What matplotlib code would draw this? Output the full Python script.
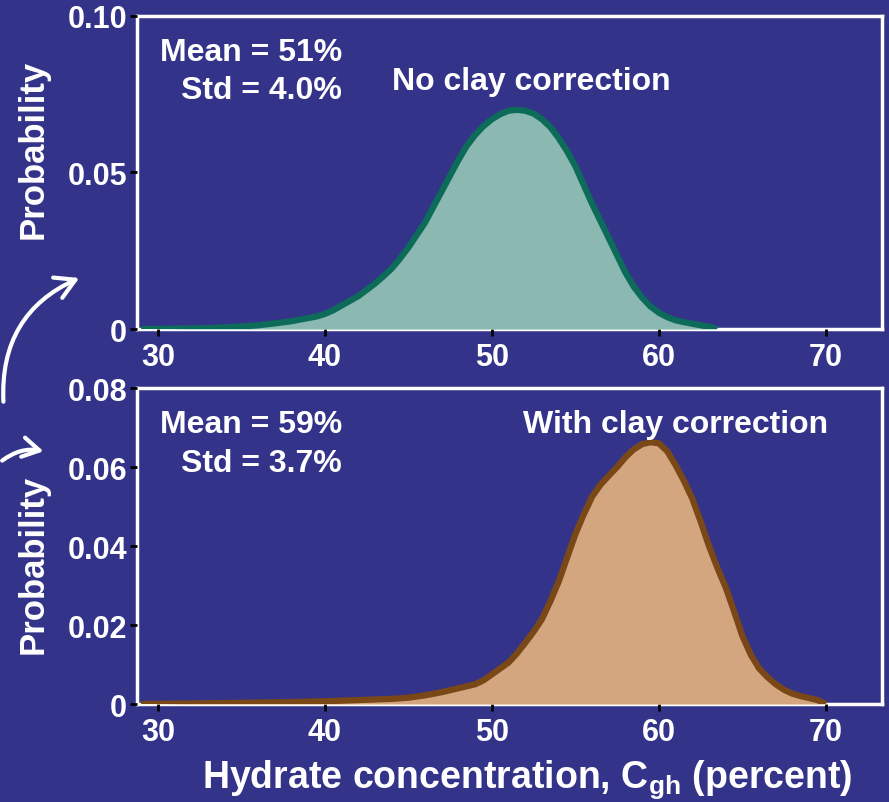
import matplotlib
matplotlib.use("Agg")
import matplotlib.pyplot as plt
import matplotlib.patches as patches

# hydrate concentration distributions (percent, probability)
x_noclay = [29, 31, 33, 35, 36, 37, 38, 39, 39.5, 40, 40.5, 41, 41.5, 42, 42.5, 43, 43.5,
            44, 44.5, 45, 45.5, 46, 46.5, 47, 47.5, 48, 48.5, 49, 49.5, 50, 50.5, 51, 51.5,
            52, 52.5, 53, 53.5, 54, 54.5, 55, 55.5, 56, 56.5, 57, 57.5, 58, 58.5, 59, 59.5,
            60, 60.5, 61, 61.5, 62, 62.5, 63, 63.5]
p_noclay = [0.0, 0.0001, 0.0003, 0.0008, 0.0012, 0.0018, 0.0025, 0.0035, 0.004, 0.0048,
            0.006, 0.0075, 0.009, 0.0105, 0.0125, 0.0145, 0.0168,
            0.0193, 0.0225, 0.026, 0.030, 0.034, 0.039, 0.044, 0.049, 0.054, 0.0585,
            0.062, 0.0648, 0.067, 0.0686, 0.0697, 0.070,
            0.0697, 0.0688, 0.067, 0.0645, 0.061, 0.0568, 0.052, 0.046, 0.040, 0.0345,
            0.029, 0.0235, 0.018, 0.0135, 0.010, 0.0072,
            0.0052, 0.0038, 0.0028, 0.0022, 0.0017, 0.0012, 0.0007, 0.0]

x_clay = [29, 35, 38, 40, 42, 44, 45, 46, 47, 48, 48.5, 49, 49.5, 50, 50.5, 51, 51.5,
          52, 52.5, 53, 53.5, 54, 54.5, 55, 55.5, 56, 56.5, 57, 57.5, 58, 58.5, 59, 59.5,
          60, 60.5, 61, 61.5, 62, 62.5, 63, 63.5, 64, 64.5, 65, 65.5, 66, 66.5, 67, 67.5,
          68, 68.5, 69, 69.5, 70]
p_clay = [0.0, 0.0003, 0.0005, 0.0007, 0.001, 0.0013, 0.0016, 0.0022, 0.003, 0.004,
          0.0045, 0.005, 0.006, 0.0075, 0.009, 0.0105, 0.0128,
          0.0155, 0.0183, 0.0215, 0.026, 0.031, 0.037, 0.043, 0.048, 0.0525, 0.0555,
          0.0578, 0.060, 0.0625, 0.0645, 0.0658, 0.0663,
          0.066, 0.064, 0.0605, 0.0565, 0.052, 0.0462, 0.040, 0.0345, 0.0295, 0.0235,
          0.0172, 0.0125, 0.009, 0.0068, 0.005, 0.0036,
          0.0026, 0.002, 0.0015, 0.001, 0.0]

stats_noclay = ["Mean = 51%", "Std = 4.0%"]
stats_clay = ["Mean = 59%", "Std = 3.7%"]
titles = ["No clay correction", "With clay correction"]

xticks = [30, 40, 50, 60, 70]
yticks_top = [0, 0.05, 0.10]
ytick_labels_top = ["0", "0.05", "0.10"]
yticks_bot = [0, 0.02, 0.04, 0.06, 0.08]
ytick_labels_bot = ["0", "0.02", "0.04", "0.06", "0.08"]

bg = "#33338a"
plt.rcParams["font.family"] = ["Liberation Sans", "DejaVu Sans"]
plt.rcParams["font.weight"] = "bold"
plt.rcParams["mathtext.fontset"] = "custom"
plt.rcParams["mathtext.rm"] = "Liberation Sans:bold"
plt.rcParams["mathtext.it"] = "Liberation Sans:bold"
plt.rcParams["mathtext.bf"] = "Liberation Sans:bold"

fig = plt.figure(figsize=(8.89, 8.03), dpi=100, facecolor=bg)
ax1 = fig.add_axes([0.154, 0.589, 0.838, 0.390])
ax2 = fig.add_axes([0.154, 0.122, 0.838, 0.3935])


def style_axes(ax, yticks, ylabels, ylim, label_y):
    ax.set_facecolor(bg)
    ax.set_xlim(28.75, 73.35)
    ax.set_ylim(*ylim)
    ax.set_xticks(xticks)
    ax.set_xticklabels([str(t) for t in xticks])
    ax.set_yticks(yticks)
    ax.set_yticklabels(ylabels)
    for s in ax.spines.values():
        s.set_color("white")
        s.set_linewidth(2.5)
        s.set_zorder(1)
    ax.tick_params(direction="out", length=5, width=2, color="black",
                   labelcolor="white", labelsize=22, pad=2)
    ax.tick_params(axis="x", pad=4)
    ax.set_ylabel("Probability", color="white", fontsize=25, fontweight="bold")
    ax.yaxis.set_label_coords(-0.117, label_y)


def draw_curve(ax, x, p, fill, edge):
    ax.fill_between(x, p, 0, color=fill, lw=0, zorder=2)
    ax.plot(x, p, color=edge, lw=4.5, solid_capstyle="butt", solid_joinstyle="round",
            zorder=3)


draw_curve(ax1, x_noclay, p_noclay, "#8bb8b0", "#0d6b5a")
draw_curve(ax2, x_clay, p_clay, "#d4a680", "#7a4816")
style_axes(ax1, yticks_top, ytick_labels_top, (0, 0.10), 0.578)
style_axes(ax2, yticks_bot, ytick_labels_bot, (0, 0.08), 0.445)

for ax, stats in [(ax1, stats_noclay), (ax2, stats_clay)]:
    ax.text(0.275, 0.885, stats[0], transform=ax.transAxes, ha="right", va="center",
            color="white", fontsize=23, fontweight="bold")
    ax.text(0.275, 0.762, stats[1], transform=ax.transAxes, ha="right", va="center",
            color="white", fontsize=23, fontweight="bold")

ax1.text(0.342, 0.792, titles[0], transform=ax1.transAxes, ha="left", va="center",
         color="white", fontsize=23, fontweight="bold")
ax2.text(0.518, 0.886, titles[1], transform=ax2.transAxes, ha="left", va="center",
         color="white", fontsize=23, fontweight="bold")

ax2.set_xlabel(r"Hydrate concentration, C$_{\mathrm{gh}}$ (percent)", color="white",
               fontsize=27, fontweight="bold")
ax2.xaxis.set_label_coords(0.5235, -0.17)

# curved arrows linking the two panels
fig.patches.append(patches.FancyArrowPatch((0.004, 0.495), (0.092, 0.654),
                                           transform=fig.transFigure,
                                           connectionstyle="arc3,rad=-0.35",
                                           arrowstyle="->,head_length=0.7,head_width=0.4",
                                           mutation_scale=20, color="white", lw=3))
fig.patches.append(patches.FancyArrowPatch((0.0, 0.423), (0.052, 0.436),
                                           transform=fig.transFigure,
                                           connectionstyle="arc3,rad=-0.25",
                                           arrowstyle="->,head_length=0.6,head_width=0.35",
                                           mutation_scale=20, color="white", lw=3))

fig.savefig("out.png", dpi=100, facecolor=bg)
